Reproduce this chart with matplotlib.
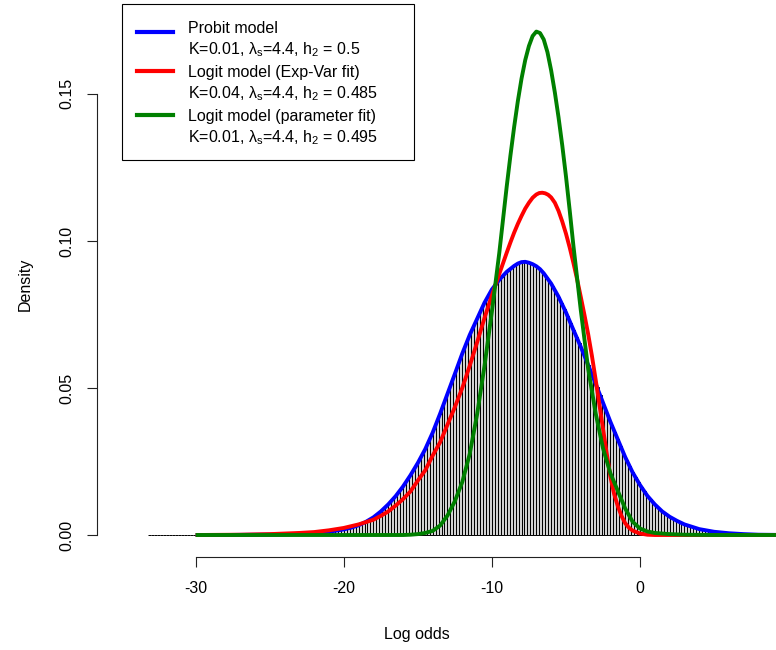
import matplotlib
matplotlib.use("Agg")
import matplotlib.pyplot as plt
from matplotlib.lines import Line2D
from matplotlib.patches import Rectangle
import numpy as np

plt.rcParams['font.family'] = ['Liberation Sans', 'DejaVu Sans']
plt.rcParams['mathtext.fontset'] = 'custom'
plt.rcParams['mathtext.rm'] = 'Liberation Sans'
plt.rcParams['mathtext.it'] = 'Liberation Sans'
plt.rcParams['mathtext.default'] = 'regular'

# ---------------- data ----------------
# histogram (bin width 0.2, first edge -33.2)
hist_start = -33.2
hist_width = 0.2
hist_heights = ([0.0] * 51 + [
    0.0004, 0.0005, 0.0006, 0.0006, 0.0007, 0.0007, 0.0008, 0.0009, 0.0010, 0.0011,
    0.0012, 0.0013, 0.0015, 0.0016, 0.0018, 0.0020, 0.0023, 0.0025, 0.0028, 0.0031,
    0.0035, 0.0040, 0.0045, 0.0051, 0.0057, 0.0064, 0.0072, 0.0080, 0.0090, 0.0099,
    0.0110, 0.0121, 0.0132, 0.0145, 0.0158, 0.0173, 0.0188, 0.0203, 0.0220, 0.0237,
    0.0254, 0.0273, 0.0292, 0.0314, 0.0336, 0.0361, 0.0386, 0.0412, 0.0439, 0.0467,
    0.0494, 0.0521, 0.0548, 0.0576, 0.0603, 0.0630, 0.0655, 0.0680, 0.0702, 0.0724,
    0.0746, 0.0768, 0.0790, 0.0808, 0.0826, 0.0842, 0.0855, 0.0868, 0.0879, 0.0890,
    0.0899, 0.0907, 0.0915, 0.0920, 0.0925, 0.0928, 0.0927, 0.0926, 0.0922, 0.0917,
    0.0910, 0.0900, 0.0890, 0.0876, 0.0862, 0.0846, 0.0828, 0.0810, 0.0789, 0.0768,
    0.0745, 0.0722, 0.0698, 0.0675, 0.0652, 0.0628, 0.0603, 0.0578, 0.0553, 0.0528,
    0.0502, 0.0476, 0.0450, 0.0424, 0.0398, 0.0373, 0.0349, 0.0325, 0.0301, 0.0277,
    0.0255, 0.0234, 0.0213, 0.0196, 0.0179, 0.0163, 0.0148, 0.0133, 0.0121, 0.0110,
    0.0099, 0.0090, 0.0080, 0.0073, 0.0065, 0.0059, 0.0054, 0.0048, 0.0043, 0.0038,
    0.0034, 0.0031, 0.0028, 0.0025, 0.0022, 0.0019, 0.0017, 0.0016, 0.0014, 0.0012,
    0.0011, 0.0010, 0.0009, 0.0008, 0.0007, 0.0006, 0.0005, 0.0005, 0.0004, 0.0003,
] + [0.0] * 11)

probit_x = [-30, -28, -26, -24, -23, -22, -21, -20, -19.5, -19, -18.5, -18, -17.5, -17,
            -16.5, -16, -15.5, -15, -14.5, -14, -13.5, -13, -12.5, -12, -11.5, -11,
            -10.5, -10, -9.5, -9, -8.5, -8.25, -8, -7.75, -7.5, -7.25, -7, -6.75, -6.5,
            -6, -5.5, -5, -4.5, -4, -3.5, -3, -2.5, -2, -1.5, -1, -0.5, 0, 0.5, 1,
            1.5, 2, 2.5, 3, 4, 5, 6, 7, 8, 10]
probit_y = [0.0, 0.0, 0.0001, 0.0002, 0.0004, 0.0007, 0.0011, 0.0019, 0.0025, 0.0033,
            0.0045, 0.0060, 0.0080, 0.0104, 0.0132, 0.0165, 0.0203, 0.0245, 0.0292,
            0.0348, 0.0412, 0.0480, 0.0548, 0.0617, 0.0680, 0.0735, 0.0790, 0.0835,
            0.0868, 0.0895, 0.0915, 0.0923, 0.0928, 0.0929, 0.0926, 0.0921, 0.0914,
            0.0904, 0.0890, 0.0855, 0.0810, 0.0757, 0.0698, 0.0640, 0.0578, 0.0515,
            0.0450, 0.0385, 0.0325, 0.0265, 0.0213, 0.0170, 0.0133, 0.0104, 0.0080,
            0.0062, 0.0048, 0.0036, 0.0020, 0.0011, 0.0006, 0.0003, 0.0001, 0.0]

logit_ev_x = [-30, -27, -25, -23, -22, -21, -20, -19, -18, -17.5, -17, -16.5, -16, -15.5,
              -15, -14.5, -14, -13.5, -13, -12.5, -12, -11.5, -11, -10.5, -10, -9.5, -9,
              -8.75, -8.5, -8.25, -8, -7.75, -7.5, -7.25, -7, -6.8, -6.6, -6.4, -6.2, -6,
              -5.75, -5.5, -5.25, -5, -4.75, -4.5, -4.25, -4, -3.75, -3.5, -3.25, -3,
              -2.75, -2.5, -2.25, -2, -1.75, -1.5, -1.25, -1, -0.75, -0.5, 0, 0.5, 1, 10]
logit_ev_y = [0.0, 0.0001, 0.0003, 0.0007, 0.0010, 0.0016, 0.0024, 0.0036, 0.0052, 0.0065,
              0.0080, 0.0100, 0.0122, 0.0148, 0.0185, 0.0220, 0.0270, 0.0315, 0.0375,
              0.0435, 0.0500, 0.0575, 0.0655, 0.0738, 0.0815, 0.0888, 0.0960, 0.0995,
              0.1028, 0.1058, 0.1085, 0.1110, 0.1130, 0.1147, 0.1158, 0.1163, 0.1164,
              0.1162, 0.1157, 0.1148, 0.1130, 0.1102, 0.1066, 0.1025, 0.0978, 0.0926,
              0.0870, 0.0810, 0.0748, 0.0683, 0.0610, 0.0530, 0.0447, 0.0362, 0.0278,
              0.0198, 0.0140, 0.0098, 0.0065, 0.0040, 0.0025, 0.0015, 0.0005, 0.0001,
              0.0, 0.0]

logit_pf_x = [-30, -16, -15.5, -15, -14.5, -14, -13.5, -13, -12.5, -12, -11.5, -11, -10.5,
              -10, -9.5, -9, -8.75, -8.5, -8.25, -8, -7.75, -7.5, -7.25, -7, -6.75, -6.5,
              -6.25, -6, -5.75, -5.5, -5.25, -5, -4.75, -4.5, -4, -3.5, -3,
              -2.5, -2, -1.5, -1, -0.5, 0, 0.5, 1, 2, 3, 5, 10]
logit_pf_y = [0.0, 0.0, 0.0001, 0.0003, 0.0007, 0.0014, 0.0032, 0.0066, 0.0115, 0.0180,
              0.0275, 0.0410, 0.0575, 0.0760, 0.0960, 0.1185, 0.1290, 0.1387, 0.1475,
              0.1552, 0.1615, 0.1663, 0.1697, 0.1712, 0.1707, 0.1685, 0.1642, 0.1580,
              0.1505, 0.1420, 0.1325, 0.1220, 0.1105, 0.0985, 0.0765, 0.0565, 0.0415,
              0.0295, 0.0210, 0.0150, 0.0090, 0.0045, 0.0022, 0.0012, 0.0007, 0.0003,
              0.0001, 0.0, 0.0]

legend_labels = [
    ("Probit model", r"K=0.01, $\lambda_s$=4.4, $h_2$ = 0.5"),
    ("Logit model (Exp-Var fit)", r"K=0.04, $\lambda_s$=4.4, $h_2$ = 0.485"),
    ("Logit model (parameter fit)", r"K=0.01, $\lambda_s$=4.4, $h_2$ = 0.495"),
]
curve_colors = ["#0000FF", "#FF0000", "#008000"]

x_ticks = [-30, -20, -10, 0]
y_ticks = [0.00, 0.05, 0.10, 0.15]
y_ticklabels = ["0.00", "0.05", "0.10", "0.15"]

# ---------------- figure ----------------
W, H = 776, 650
fig = plt.figure(figsize=(W / 100, H / 100), dpi=100)
L, R, T, B = 97, 776, 11, 557
ax = fig.add_axes([L / W, (H - B) / H, (R - L) / W, (B - T) / H])
ax.set_xlim(-36.66, 9.18)
ax.set_ylim(-0.00748, 0.1782)

n = len(hist_heights)
lefts = hist_start + hist_width * np.arange(n)
ax.bar(lefts, hist_heights, width=hist_width, align='edge', color='#d3d3d3',
       edgecolor='black', linewidth=0.7, zorder=1)

for xs, ys, c in zip([probit_x, logit_ev_x, logit_pf_x],
                     [probit_y, logit_ev_y, logit_pf_y], curve_colors):
    ax.plot(xs, ys, color=c, lw=2.8, zorder=3, solid_capstyle='butt',
            solid_joinstyle='round')

for s in ['top', 'right']:
    ax.spines[s].set_visible(False)
ax.spines['bottom'].set_bounds(-30, 0)
ax.spines['left'].set_bounds(0, 0.15)
for s in ['bottom', 'left']:
    ax.spines[s].set_linewidth(0.8)
    ax.spines[s].set_color('#222222')

ax.set_xticks(x_ticks)
ax.set_xticklabels([str(v) for v in x_ticks])
ax.set_yticks(y_ticks)
ax.set_yticklabels(y_ticklabels, rotation=90, va='center')
ax.tick_params(axis='both', direction='out', length=7.5, width=0.8, color='#222222',
               labelsize=11.5)
ax.tick_params(axis='x', pad=10)
ax.tick_params(axis='y', pad=9)

fig.text(417 / W, 1 - 634 / H, "Log odds", ha='center', va='center', fontsize=11.5)
fig.text(25 / W, 1 - 284 / H, "Density", ha='center', va='center', rotation=90,
         fontsize=11.5)

# legend (manual, R style)
fig.patches.append(Rectangle((122 / W, 1 - 160 / H), (414 - 122) / W, (160 - 4) / H,
                             transform=fig.transFigure, facecolor='white',
                             edgecolor='black', linewidth=0.8, zorder=5))
line_y = [32, 71, 115]
base_y = [(33, 54.5), (77, 98.5), (121, 142.5)]
for (l1, l2), c, ly, (b1, b2) in zip(legend_labels, curve_colors, line_y, base_y):
    fig.add_artist(Line2D([137 / W, 173 / W], [1 - ly / H, 1 - ly / H], color=c, lw=3,
                          transform=fig.transFigure, zorder=6))
    fig.text(188 / W, 1 - b1 / H, l1, ha='left', va='baseline', fontsize=11.5, zorder=6)
    fig.text(188 / W, 1 - b2 / H, l2, ha='left', va='baseline', fontsize=11.5, zorder=6)

fig.savefig("out.png", dpi=100)
